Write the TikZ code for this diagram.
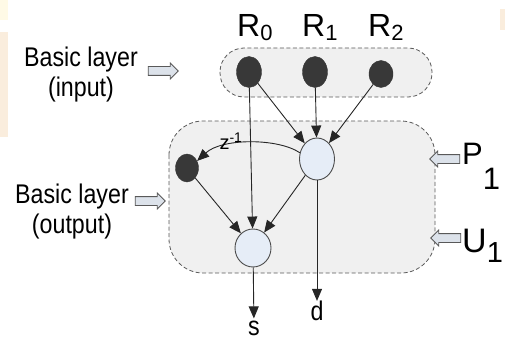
\documentclass[tikz,border=0pt]{standalone}
\usepackage{fontspec}
\setmainfont{Liberation Sans}
\usepackage{graphicx}
\usetikzlibrary{arrows.meta, shapes.geometric, shapes.arrows, positioning}
\definecolor{layerbg}{HTML}{F0F0F0}
\definecolor{unitdark}{HTML}{383838}
\definecolor{unitlight}{HTML}{E6EDF7}
\definecolor{hollowfill}{HTML}{DCE2EA}
\definecolor{pagebeige}{HTML}{FAEDDD}
\definecolor{pageyellow}{HTML}{FFFAE6}
\newcommand{\sq}[1]{\scalebox{0.86}[1]{#1}}
\newcommand{\rname}[1]{{\fontsize{32}{34}\selectfont R}\raisebox{-4pt}{\fontsize{22}{22}\selectfont #1}}

\begin{document}
\begin{tikzpicture}[x=1pt, y=-1pt, >={Triangle[length=12pt,width=10pt]},
  unitd/.style={ellipse, draw=unitdark, fill=unitdark, minimum width=25pt, minimum height=31pt, inner sep=0},
  unitl/.style={ellipse, draw=black!70, fill=unitlight, line width=0.9pt, minimum width=35pt, minimum height=42pt, inner sep=0},
  layer/.style={draw=black!65, dash pattern=on 4pt off 2.5pt, line width=0.8pt, fill=layerbg},
  wire/.style={->, draw=black!85, line width=0.9pt},
  hollow/.style={single arrow, draw=black!65, fill=hollowfill, line width=0.8pt, minimum height=30pt, single arrow head extend=3.5pt, inner sep=4pt},
  lbl/.style={inner sep=0, font=\fontsize{27}{30}\selectfont}]
  \useasboundingbox (0,0) rectangle (505,342);
  % page edges
  \fill[pageyellow] (0,0) rectangle (8,20);
  \fill[pagebeige] (0,32) rectangle (8,137);
  \fill[pagebeige] (500,9) rectangle (505,30);
  % layers
  \draw[layer, rounded corners=24pt] (220,48) rectangle (432,97);
  \draw[layer, rounded corners=34pt] (169,121) rectangle (435,273);
  % input units
  \node[unitd] (r0) at (249,72) {};
  \node[unitd] (r1) at (315,72) {};
  \node[unitd, minimum width=24pt, minimum height=27pt] (r2) at (381,74) {};
  \node[lbl, anchor=base west] (r0lab) at (237,37) {\rname{0}};
  \node[lbl, anchor=base west] (r1lab) at (302,37) {\rname{1}};
  \node[lbl, anchor=base west] (r2lab) at (368,37) {\rname{2}};
  % hidden, delay and output units
  \node[unitl] (h) at (317,159) {};
  \node[unitd, minimum width=23pt, minimum height=28pt] (m) at (187,168) {};
  \node[unitl, minimum width=36pt, minimum height=38pt] (o) at (253,248) {};
  \node[lbl] (slab) at (254,328) {\sq{s}};
  \node[lbl] (dlab) at (317,311) {\sq{d}};
  % connections
  \draw[wire] (r0) -- (o);
  \draw[wire] (r0) -- (h);
  \draw[wire] (r1) -- (h);
  \draw[wire] (r2) -- (h);
  \draw[wire] (h.160) .. controls (278,138) and (222,138) .. (m.35);
  \node[font=\fontsize{20}{20}\selectfont, inner sep=0] (zlab) at (231,141) {z\textsuperscript{-1}};
  \draw[wire] (m) -- (o);
  \draw[wire] (h) -- (o);
  \draw[wire] (h) -- (dlab);
  \draw[wire, shorten >=2pt] (o) -- (slab);
  % side labels
  \node[lbl, align=center] (inlab) at (81,75) {\sq{Basic layer}\\\sq{(input)}};
  \node[hollow] (inarr) at (161,71) {};
  \node[lbl, align=center] (outlab) at (72,212) {\sq{Basic layer}\\\sq{(output)}};
  \node[hollow] (outarr) at (148,201) {};
  \node[hollow, shape border rotate=180] (parr) at (447,159) {};
  \node[hollow, shape border rotate=180] (uarr) at (448,238) {};
  \node[anchor=base west, inner sep=0, font=\fontsize{31}{31}\selectfont] (plab) at (462,164) {P\raisebox{-25pt}{1}};
  \node[anchor=base west, inner sep=0, font=\fontsize{34}{34}\selectfont] (ulab) at (462,252) {U\raisebox{-10pt}{\fontsize{29}{29}\selectfont 1}};
\end{tikzpicture}
\end{document}
